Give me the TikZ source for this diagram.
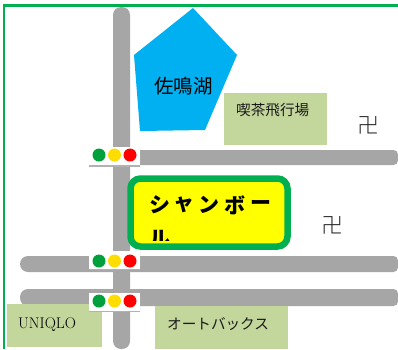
\documentclass[tikz,border=0pt]{standalone}
\usepackage{fontspec}
\newfontfamily\cjk{Noto Sans CJK JP}
\newfontfamily\cjkb{Noto Sans CJK JP Black}
\newfontfamily\cjkl{Noto Sans CJK JP Light}
\definecolor{road}{HTML}{A6A6A6}
\definecolor{frame}{HTML}{00B050}
\definecolor{lake}{HTML}{00B0F0}
\definecolor{place}{HTML}{C3D69B}
\definecolor{lgreen}{HTML}{00A03C}
\definecolor{lyellow}{HTML}{FFDD00}
\definecolor{shop}{HTML}{FFFF00}
\tikzset{
 placebox/.style={fill=place,draw=none,anchor=north west,inner sep=0pt},
 lightbox/.style={fill=white,draw=none,minimum width=51pt,minimum height=19pt,inner sep=0pt,
   path picture={\draw[black!30,line width=1.4pt] (path picture bounding box.south west) -- (path picture bounding box.south east);\draw[black!25,line width=0.8pt] (path picture bounding box.south east) -- (path picture bounding box.north east);}},
 bulb/.style={circle,minimum size=13pt,inner sep=0pt,draw=none},
 lbl/.style={inner sep=0pt,font=\cjk\fontsize{14.6}{14.6}\selectfont,text=black!90},
 temple/.style={inner sep=0pt,font=\cjkl\fontsize{22}{22}\selectfont,text=black!85}
}
\begin{document}
\begin{tikzpicture}[x=1pt,y=-1pt]
\useasboundingbox (0,0) rectangle (398,349);
\fill[white] (0,0) rectangle (398,349);
\draw[frame,line width=2.2pt] (4,349) -- (4,5.5) -- (398,5.5);
% roads
\fill[road,rounded corners=8pt] (113,7) rectangle (130,349);
\fill[road,rounded corners=4.5pt] (125,150) rectangle (398,165);
\fill[road] (20,256) [rounded corners=8pt] -- (20,272) [rounded corners=4.5pt] -- (398,272) -- (398,256) [rounded corners=8pt] -- cycle;
\fill[road] (20,289) [rounded corners=8pt] -- (20,306) [rounded corners=4.5pt] -- (398,306) -- (398,289) [rounded corners=8pt] -- cycle;
% lake
\fill[lake] (193,8) -- (237,55) -- (205,130) -- (140,131) -- (134,55) -- cycle;
\node[inner sep=0pt,font=\cjk\fontsize{19.5}{19.5}\selectfont] (lakelabel) at (183.5,86) {佐鳴湖};
% places
\node[placebox,minimum width=103pt,minimum height=52pt] (cafe) at (224,93) {};
\node[lbl,anchor=west] (cafelabel) at (236,110) {喫茶飛行場};
\node[placebox,minimum width=95pt,minimum height=43pt] (uniqlo) at (7,304) {};
\node[inner sep=0pt,anchor=west,font=\fontsize{15.5}{15.5}\selectfont,text=black] (uniqlolabel) at (18,324.5) {UNIQLO};
\node[placebox,minimum width=133pt,minimum height=43pt] (autobacs) at (155,306) {};
\node[lbl,anchor=west] (autolabel) at (167,324) {オートバックス};
% shop
\draw[frame,line width=6.5pt,fill=shop,rounded corners=10pt] (130.5,178.5) rectangle (287.5,246.5);
\begin{scope}
\clip (134,182) rectangle (284,240);
\foreach \t/\x in {シ/160,ャ/184,ン/209,ボ/235,ー/261}{
 \node[inner sep=0pt,font=\cjkb\fontsize{21}{21}\selectfont] at (\x,205) {\t};
}
\node[inner sep=0pt,font=\cjkb\fontsize{21}{21}\selectfont] (shoplabel) at (160,238.8) {ル};
\end{scope}
% traffic lights
\foreach \n/\y/\b in {a/156.5/155,b/260/261,c/302/301}{
 \node[lightbox] (light\n) at (114.5,\y) {};
 \node[bulb,fill=lgreen] (g\n) at (99,\b) {};
 \node[bulb,fill=lyellow] (y\n) at (114.5,\b) {};
 \node[bulb,fill=red] (r\n) at (130,\b) {};
}
% temple marks
\node[temple] (m1) at (368.5,125.5) {卍};
\node[temple] (m2) at (332.5,225.5) {卍};
\end{tikzpicture}
\end{document}
